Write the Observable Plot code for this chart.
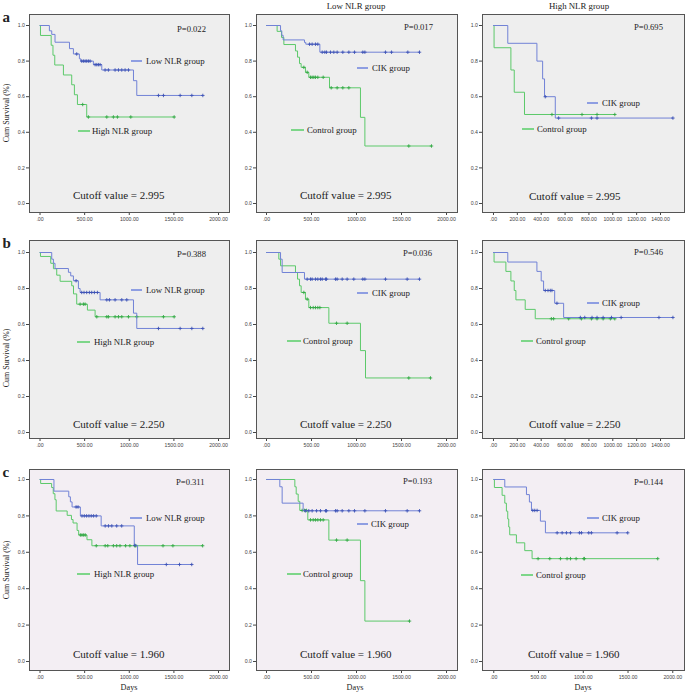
<!DOCTYPE html>
<html><head><meta charset="utf-8">
<script src="https://cdn.jsdelivr.net/npm/d3@7"></script>
<script src="https://cdn.jsdelivr.net/npm/@observablehq/plot@0.6"></script>
<style>
body{margin:0;background:#fff;}
#root{position:relative;width:685px;height:694px;overflow:hidden;font-family:"Liberation Serif","Times New Roman",serif;color:#222;}
#root svg{position:absolute;overflow:visible;}
</style></head><body><div id="root"></div>
<script>
// ---------- tick labels ----------
const yTicks = [0, 0.2, 0.4, 0.6, 0.8, 1.0];
const xTicks2000 = [0, 500, 1000, 1500, 2000];
const xTicks1400 = [0, 200, 400, 600, 800, 1000, 1200, 1400];
const rowLetters = ["a", "b", "c"];
const colTitles = ["", "Low NLR group", "High NLR group"];
const pValues = [["P=0.022", "P=0.017", "P=0.695"], ["P=0.388", "P=0.036", "P=0.546"], ["P=0.311", "P=0.193", "P=0.144"]];
const cutoffs = ["2.995", "2.250", "1.960"];
const legendNames = [["Low NLR group", "High NLR group"], ["CIK group", "Control group"], ["CIK group", "Control group"]];

// ---------- row a ----------
const a1LowT = [105, 131, 168, 330, 374, 441, 456, 598, 692, 1047, 1084];
const a1LowS = [0.97, 0.95, 0.906, 0.87, 0.84, 0.813, 0.80, 0.78, 0.75, 0.69, 0.607];
const a1LowC = [411, 467, 486, 505, 523, 542, 561, 617, 636, 654, 673, 729, 766, 841, 879, 916, 953, 991, 1327, 1383, 1570, 1701, 1824];
const a1HighT = [5, 125, 145, 165, 262, 355, 385, 419, 523];
const a1HighS = [0.944, 0.889, 0.833, 0.778, 0.722, 0.667, 0.611, 0.556, 0.486];
const a1HighC = [478, 542, 748, 822, 867, 1017, 1503];

const a2CikT = [156, 170, 185, 422, 437, 593];
const a2CikS = [0.97, 0.945, 0.919, 0.905, 0.895, 0.85];
const a2CikC = [478, 507, 544, 570, 619, 648, 667, 711, 748, 785, 848, 915, 978, 1070, 1093, 1322, 1389, 1570, 1700];
const a2CtlT = [118, 167, 193, 322, 345, 367, 385, 433, 470, 700, 1044, 1093];
const a2CtlS = [0.967, 0.933, 0.893, 0.857, 0.822, 0.786, 0.765, 0.737, 0.709, 0.65, 0.484, 0.323];
const a2CtlC = [415, 452, 489, 507, 526, 544, 570, 630, 719, 785, 848, 915, 1581, 1833];

const a3CikT = [120, 364, 412, 428, 518];
const a3CikS = [0.9, 0.8, 0.7, 0.6, 0.48];
const a3CikC = [434, 546, 821, 868, 1504];
const a3CtlT = [5, 146, 174, 260];
const a3CtlS = [0.875, 0.75, 0.625, 0.5];
const a3CtlC = [490, 742, 868, 1017];

// ---------- row b ----------
const b1LowT = [131, 150, 168, 318, 344, 374, 430, 449, 673, 1047, 1084];
const b1LowS = [0.963, 0.94, 0.911, 0.89, 0.87, 0.843, 0.80, 0.778, 0.737, 0.663, 0.578];
const b1LowC = [404, 467, 493, 523, 553, 579, 609, 643, 748, 778, 841, 916, 972, 1327, 1570, 1701, 1824];
const b1HighT = [5, 120, 150, 187, 225, 355, 375, 411, 531, 617];
const b1HighS = [0.978, 0.94, 0.91, 0.874, 0.84, 0.815, 0.77, 0.713, 0.68, 0.643];
const b1HighC = [449, 486, 505, 636, 748, 766, 841, 879, 916, 991, 1084, 1383, 1503];

const b2CikT = [156, 174, 422];
const b2CikS = [0.963, 0.889, 0.852];
const b2CikC = [452, 489, 507, 544, 570, 600, 619, 656, 667, 767, 785, 841, 896, 970, 1070, 1093, 1322, 1563, 1700];
const b2CtlT = [137, 156, 322, 345, 367, 385, 433, 470, 693, 1044, 1100];
const b2CtlS = [0.963, 0.926, 0.889, 0.852, 0.815, 0.778, 0.741, 0.694, 0.607, 0.455, 0.303];
const b2CtlC = [415, 452, 489, 519, 544, 570, 593, 778, 896, 1581, 1822];

const b3CikT = [120, 364, 400, 420, 513, 588];
const b3CikS = [0.947, 0.895, 0.842, 0.789, 0.718, 0.639];
const b3CikC = [434, 457, 476, 490, 532, 728, 765, 826, 868, 919, 989, 1070, 1387, 1504];
const b3CtlT = [5, 104, 146, 174, 188, 266, 350];
const b3CtlS = [0.947, 0.895, 0.842, 0.789, 0.737, 0.684, 0.632];
const b3CtlC = [485, 504, 630, 737, 821, 868, 919, 980, 1017];

// ---------- row c ----------
const c1LowT = [156, 322, 340, 359, 452, 685, 1056, 1093];
const c1LowS = [0.936, 0.905, 0.877, 0.849, 0.80, 0.745, 0.638, 0.533];
const c1LowC = [404, 426, 470, 496, 522, 548, 574, 600, 630, 730, 767, 804, 859, 915, 1063, 1415, 1563, 1700];
const c1HighT = [7, 130, 148, 167, 181, 304, 352, 370, 415, 433, 526, 581];
const c1HighS = [0.978, 0.956, 0.922, 0.889, 0.827, 0.803, 0.78, 0.761, 0.72, 0.695, 0.669, 0.636];
const c1HighC = [452, 470, 489, 507, 630, 730, 759, 822, 859, 896, 959, 1007, 1063, 1074, 1378, 1489, 1822];

const c2CikT = [148, 174, 407];
const c2CikS = [0.96, 0.87, 0.828];
const c2CikC = [433, 470, 507, 556, 600, 656, 667, 767, 785, 841, 915, 978, 1093, 1322, 1563, 1700];
const c2CtlT = [315, 330, 352, 370, 459, 693, 1044, 1093];
const c2CtlS = [0.96, 0.92, 0.88, 0.83, 0.778, 0.667, 0.444, 0.222];
const c2CtlC = [396, 422, 444, 489, 519, 544, 570, 600, 630, 778, 896, 1589];

const c3CikT = [123, 365, 398, 421, 521, 577];
const c3CikS = [0.959, 0.917, 0.876, 0.83, 0.771, 0.707];
const c3CikC = [436, 458, 484, 708, 764, 812, 857, 957, 980, 1061, 1091, 1378, 1497];
const c3CtlT = [7, 93, 123, 141, 156, 167, 178, 253, 346, 428];
const c3CtlS = [0.956, 0.913, 0.87, 0.826, 0.783, 0.739, 0.696, 0.652, 0.609, 0.565];
const c3CtlC = [495, 626, 745, 819, 857, 920, 1006, 1013, 1832];

// ---------- layout (styles) ----------
const BLUE = "#7182d6", BLUE_M = "#3d52b6", GREEN = "#5cc96a", GREEN_M = "#33a845";
const BLUE_SW = "#8e9ee2", GREEN_SW = "#7dd689";
const ML = 26, MR = 1, MT = 1, MB = 14;
const cols = [{left: 29, w: 200}, {left: 256, w: 201}, {left: 482, w: 202}];
const rows = [
  {top: 14, h: 198, yd: [-0.0506, 1.0618], bg: "#eeeeee"},
  {top: 240, h: 198, yd: [-0.0333, 1.0667], bg: "#eeeeee"},
  {top: 469, h: 201, yd: [-0.0495, 1.0549], bg: "#f3eef3"}
];
const root = document.getElementById("root");

function km(T, S, C) {
  const end = Math.max(T[T.length - 1], C.length ? C[C.length - 1] : 0);
  const pts = [{t: 0, s: 1}, ...T.map((t, i) => ({t, s: S[i]})), {t: end, s: S[S.length - 1]}];
  const surv = t => { let s = 1; T.forEach((tt, i) => { if (tt <= t) s = S[i]; }); return s; };
  return {pts, cens: C.map(t => ({t, s: surv(t)}))};
}

function panel(r, c, xDomain, xTicks, low, high) {
  const R = rows[r], Cc = cols[c];
  const marks = [
    Plot.frame({fill: R.bg, stroke: "none"}),
    Plot.axisY({ticks: yTicks, tickFormat: d => d.toFixed(1), tickSize: 3, tickPadding: 1.5, fontSize: 5.2, label: null}),
    Plot.axisX({ticks: xTicks, tickFormat: d => d === 0 ? ".00" : d.toFixed(2), tickSize: 3, tickPadding: 2, fontSize: 5.2, label: null})
  ];
  [[high, GREEN, GREEN_M], [low, BLUE, BLUE_M]].forEach(([arr, col, mcol]) => {
    const k = km(arr[0], arr[1], arr[2]);
    marks.push(Plot.line(k.pts, {x: "t", y: "s", curve: "step-after", stroke: col, strokeWidth: 1}));
    marks.push(Plot.dot(k.cens, {x: "t", y: "s", symbol: "plus", r: 1.2, stroke: mcol, strokeWidth: 0.9}));
  });
  marks.push(Plot.frame({stroke: "#555", strokeWidth: 1}));
  const svg = Plot.plot({
    width: Cc.w + ML + MR, height: R.h + MT + MB,
    marginLeft: ML, marginRight: MR, marginTop: MT, marginBottom: MB,
    x: {domain: xDomain, label: null, axis: null},
    y: {domain: R.yd, label: null, axis: null},
    style: {background: "transparent", color: "#444", fontFamily: "'Liberation Sans', Arial, sans-serif"},
    marks
  });
  svg.style.left = (Cc.left - ML) + "px";
  svg.style.top = (R.top - MT) + "px";
  root.append(svg);
}

panel(0, 0, [-118, 2123], xTicks2000, [a1LowT, a1LowS, a1LowC], [a1HighT, a1HighS, a1HighC]);
panel(0, 1, [-111, 2122], xTicks2000, [a2CikT, a2CikS, a2CikC], [a2CtlT, a2CtlS, a2CtlC]);
panel(0, 2, [-92, 1601], xTicks1400, [a3CikT, a3CikS, a3CikC], [a3CtlT, a3CtlS, a3CtlC]);
panel(1, 0, [-118, 2123], xTicks2000, [b1LowT, b1LowS, b1LowC], [b1HighT, b1HighS, b1HighC]);
panel(1, 1, [-111, 2122], xTicks2000, [b2CikT, b2CikS, b2CikC], [b2CtlT, b2CtlS, b2CtlC]);
panel(1, 2, [-92, 1601], xTicks1400, [b3CikT, b3CikS, b3CikC], [b3CtlT, b3CtlS, b3CtlC]);
panel(2, 0, [-118, 2123], xTicks2000, [c1LowT, c1LowS, c1LowC], [c1HighT, c1HighS, c1HighC]);
panel(2, 1, [-111, 2122], xTicks2000, [c2CikT, c2CikS, c2CikC], [c2CtlT, c2CtlS, c2CtlC]);
panel(2, 2, [-126, 2131], xTicks2000, [c3CikT, c3CikS, c3CikC], [c3CtlT, c3CtlS, c3CtlC]);

// ---------- text annotations ----------
function txt(s, x, y, size, o = {}) {
  const d = document.createElement("div");
  d.textContent = s;
  const tx = o.center ? "-50%" : "0";
  d.style.cssText = `position:absolute;left:${x}px;top:${y}px;font-size:${size}px;line-height:1;white-space:nowrap;` +
    `transform:translate(${tx},-50%)${o.rotate ? " rotate(-90deg)" : ""};font-weight:${o.bold ? "bold" : "normal"};`;
  root.append(d);
}
function sw(x1, x2, y, color) {
  const d = document.createElement("div");
  d.style.cssText = `position:absolute;left:${x1}px;top:${y - 0.75}px;width:${x2 - x1}px;height:1.5px;background:${color};`;
  root.append(d);
}

const letterY = [17, 243, 472];
const survY = [113, 358, 570];
rowLetters.forEach((l, i) => { txt(l, 2.5, letterY[i], 15, {bold: true}); txt("Cum Survival (%)", 7, survY[i], 8, {center: true, rotate: true}); });
txt(colTitles[1], 356, 6, 8.8, {center: true});
txt(colTitles[2], 579, 6, 8.8, {center: true});
[129, 355, 583].forEach(x => txt("Days", x, 688, 8.2, {center: true}));

const pPos = [[[177, 29], [404, 27], [634, 27]], [[177, 254], [403, 253], [634, 252]], [[176, 482], [403, 481], [634, 482]]];
const cutPos = [[[73, 195], [300, 195], [529, 196]], [[73, 424], [300, 424], [529, 424]], [[73, 654], [300, 654], [528, 654]]];
// legend: [blueX1, blueX2, blueY, blueTextX, greenX1, greenX2, greenY, greenTextX]
const legPos = [
  [[131, 142, 61, 146, 78, 90, 131, 92], [357, 368, 68, 372, 291, 304, 130, 307], [587, 598, 103, 602, 522, 534, 129, 537]],
  [[131, 142, 290, 146, 77, 90, 342, 94], [357, 368, 293, 372, 287, 301, 341, 303], [587, 599, 303, 602, 521, 533, 341, 536]],
  [[130, 142, 518, 146, 77, 90, 574, 94], [357, 368, 524, 371, 287, 301, 574, 303], [587, 599, 518, 602, 521, 533, 575, 536]]
];
for (let r = 0; r < 3; r++) for (let c = 0; c < 3; c++) {
  txt(pValues[r][c], pPos[r][c][0], pPos[r][c][1], 8.6);
  txt("Cutoff value = " + cutoffs[r], cutPos[r][c][0], cutPos[r][c][1], 11);
  const L = legPos[r][c];
  sw(L[0], L[1], L[2], BLUE_SW); txt(legendNames[c][0], L[3], L[2], 8.8);
  sw(L[4], L[5], L[6], GREEN_SW); txt(legendNames[c][1], L[7], L[6], 8.8);
}
</script>
</body></html>
